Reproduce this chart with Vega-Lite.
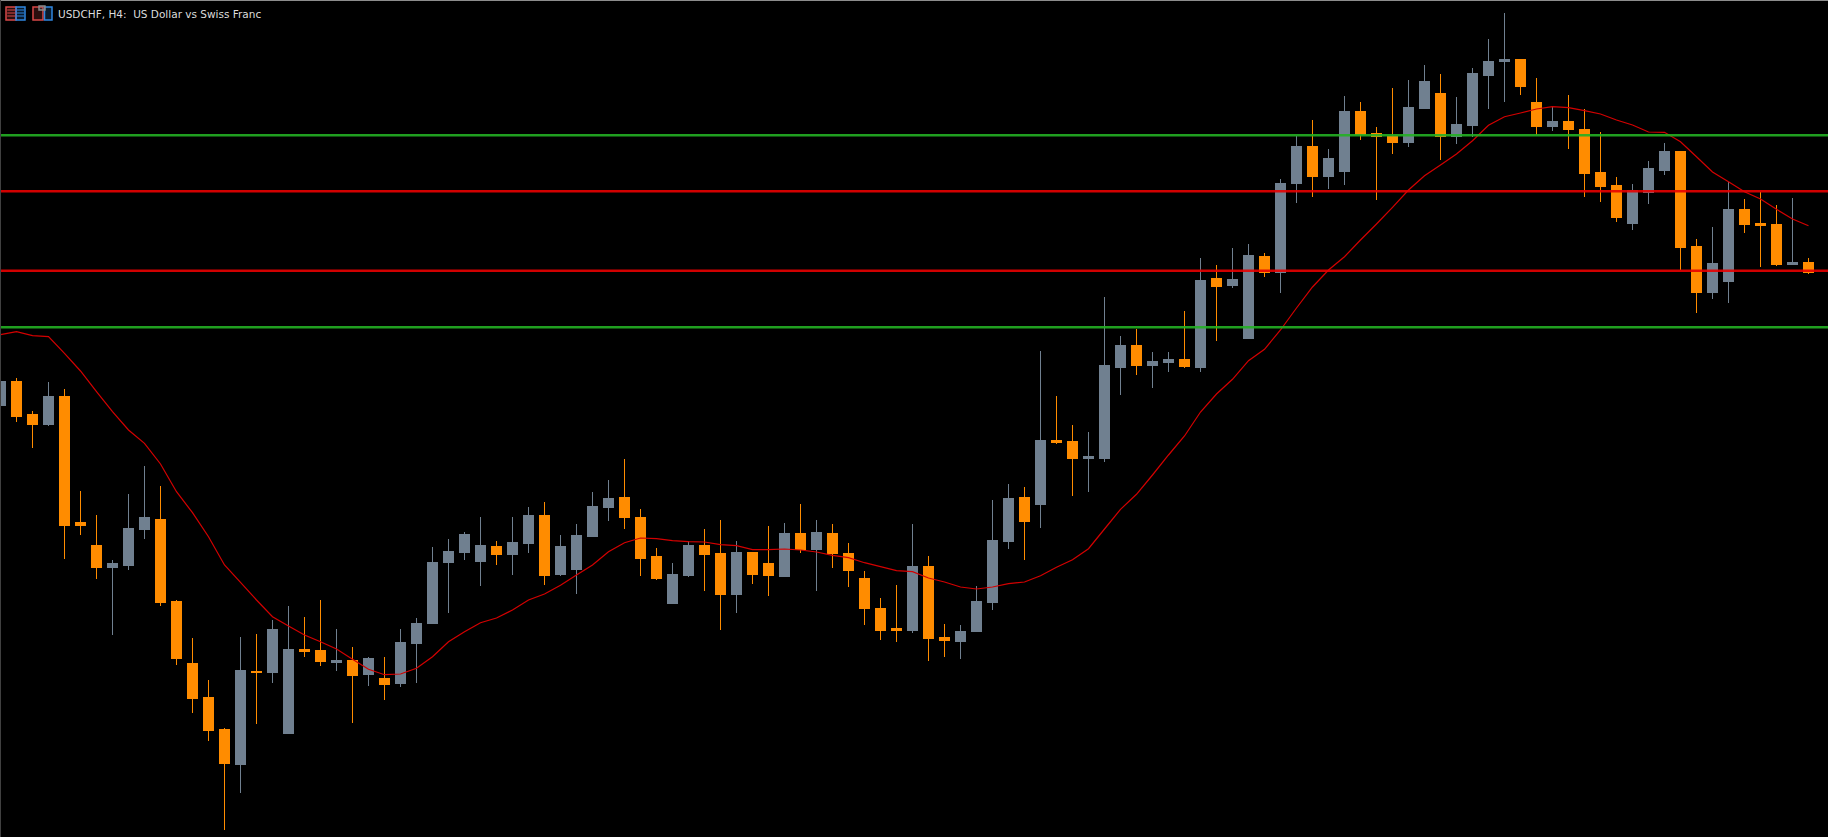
{"$schema":"https://vega.github.io/schema/vega-lite/v6.json","width":1828,"height":837,"autosize":{"type":"none"},"padding":0,"background":"#000000","config":{"view":{"stroke":null,"fill":"#000000"},"axis":{"disable":true}},
"datasets":{"candles":[
{"i":0,"open":0.8431,"high":0.8456,"low":0.8431,"close":0.8456},
{"i":1,"open":0.8456,"high":0.8459,"low":0.8415,"close":0.8420},
{"i":2,"open":0.8423,"high":0.8426,"low":0.8389,"close":0.8412},
{"i":3,"open":0.8412,"high":0.8455,"low":0.8411,"close":0.8441},
{"i":4,"open":0.8441,"high":0.8448,"low":0.8278,"close":0.8311},
{"i":5,"open":0.8315,"high":0.8346,"low":0.8302,"close":0.8311},
{"i":6,"open":0.8292,"high":0.8322,"low":0.8258,"close":0.8269},
{"i":7,"open":0.8269,"high":0.8277,"low":0.8202,"close":0.8274},
{"i":8,"open":0.8271,"high":0.8343,"low":0.8267,"close":0.8309},
{"i":9,"open":0.8307,"high":0.8371,"low":0.8298,"close":0.8320},
{"i":10,"open":0.8318,"high":0.8351,"low":0.8231,"close":0.8234},
{"i":11,"open":0.8236,"high":0.8237,"low":0.8172,"close":0.8178},
{"i":12,"open":0.8174,"high":0.8199,"low":0.8124,"close":0.8138},
{"i":13,"open":0.8140,"high":0.8157,"low":0.8096,"close":0.8106},
{"i":14,"open":0.8108,"high":0.8109,"low":0.8007,"close":0.8073},
{"i":15,"open":0.8072,"high":0.8200,"low":0.8044,"close":0.8167},
{"i":16,"open":0.8166,"high":0.8203,"low":0.8113,"close":0.8164},
{"i":17,"open":0.8164,"high":0.8217,"low":0.8154,"close":0.8208},
{"i":18,"open":0.8103,"high":0.8231,"low":0.8103,"close":0.8188},
{"i":19,"open":0.8188,"high":0.8220,"low":0.8180,"close":0.8185},
{"i":20,"open":0.8187,"high":0.8237,"low":0.8171,"close":0.8175},
{"i":21,"open":0.8174,"high":0.8208,"low":0.8166,"close":0.8177},
{"i":22,"open":0.8177,"high":0.8190,"low":0.8114,"close":0.8161},
{"i":23,"open":0.8162,"high":0.8180,"low":0.8151,"close":0.8179},
{"i":24,"open":0.8159,"high":0.8180,"low":0.8137,"close":0.8152},
{"i":25,"open":0.8153,"high":0.8208,"low":0.8150,"close":0.8195},
{"i":26,"open":0.8193,"high":0.8219,"low":0.8154,"close":0.8214},
{"i":27,"open":0.8213,"high":0.8290,"low":0.8213,"close":0.8275},
{"i":28,"open":0.8274,"high":0.8298,"low":0.8224,"close":0.8286},
{"i":29,"open":0.8284,"high":0.8305,"low":0.8277,"close":0.8303},
{"i":30,"open":0.8275,"high":0.8320,"low":0.8251,"close":0.8292},
{"i":31,"open":0.8291,"high":0.8296,"low":0.8272,"close":0.8282},
{"i":32,"open":0.8282,"high":0.8320,"low":0.8262,"close":0.8295},
{"i":33,"open":0.8293,"high":0.8330,"low":0.8284,"close":0.8322},
{"i":34,"open":0.8322,"high":0.8335,"low":0.8252,"close":0.8261},
{"i":35,"open":0.8262,"high":0.8302,"low":0.8261,"close":0.8291},
{"i":36,"open":0.8267,"high":0.8313,"low":0.8243,"close":0.8302},
{"i":37,"open":0.8300,"high":0.8345,"low":0.8300,"close":0.8331},
{"i":38,"open":0.8329,"high":0.8357,"low":0.8316,"close":0.8339},
{"i":39,"open":0.8340,"high":0.8378,"low":0.8308,"close":0.8319},
{"i":40,"open":0.8320,"high":0.8328,"low":0.8261,"close":0.8278},
{"i":41,"open":0.8281,"high":0.8289,"low":0.8257,"close":0.8258},
{"i":42,"open":0.8233,"high":0.8274,"low":0.8233,"close":0.8263},
{"i":43,"open":0.8261,"high":0.8296,"low":0.8260,"close":0.8292},
{"i":44,"open":0.8292,"high":0.8308,"low":0.8246,"close":0.8282},
{"i":45,"open":0.8284,"high":0.8317,"low":0.8207,"close":0.8242},
{"i":46,"open":0.8242,"high":0.8296,"low":0.8224,"close":0.8285},
{"i":47,"open":0.8285,"high":0.8285,"low":0.8253,"close":0.8262},
{"i":48,"open":0.8274,"high":0.8311,"low":0.8241,"close":0.8261},
{"i":49,"open":0.8260,"high":0.8314,"low":0.8260,"close":0.8304},
{"i":50,"open":0.8304,"high":0.8333,"low":0.8284,"close":0.8287},
{"i":51,"open":0.8287,"high":0.8317,"low":0.8246,"close":0.8305},
{"i":52,"open":0.8304,"high":0.8313,"low":0.8269,"close":0.8283},
{"i":53,"open":0.8284,"high":0.8294,"low":0.8250,"close":0.8266},
{"i":54,"open":0.8259,"high":0.8266,"low":0.8212,"close":0.8228},
{"i":55,"open":0.8229,"high":0.8239,"low":0.8197,"close":0.8206},
{"i":56,"open":0.8209,"high":0.8252,"low":0.8195,"close":0.8206},
{"i":57,"open":0.8206,"high":0.8313,"low":0.8204,"close":0.8271},
{"i":58,"open":0.8271,"high":0.8281,"low":0.8176,"close":0.8198},
{"i":59,"open":0.8200,"high":0.8213,"low":0.8180,"close":0.8196},
{"i":60,"open":0.8195,"high":0.8212,"low":0.8178,"close":0.8206},
{"i":61,"open":0.8205,"high":0.8251,"low":0.8205,"close":0.8236},
{"i":62,"open":0.8234,"high":0.8337,"low":0.8227,"close":0.8297},
{"i":63,"open":0.8295,"high":0.8353,"low":0.8288,"close":0.8339},
{"i":64,"open":0.8340,"high":0.8350,"low":0.8277,"close":0.8315},
{"i":65,"open":0.8332,"high":0.8486,"low":0.8309,"close":0.8397},
{"i":66,"open":0.8397,"high":0.8441,"low":0.8393,"close":0.8394},
{"i":67,"open":0.8396,"high":0.8412,"low":0.8341,"close":0.8378},
{"i":68,"open":0.8378,"high":0.8405,"low":0.8345,"close":0.8381},
{"i":69,"open":0.8378,"high":0.8540,"low":0.8375,"close":0.8472},
{"i":70,"open":0.8469,"high":0.8501,"low":0.8442,"close":0.8492},
{"i":71,"open":0.8492,"high":0.8508,"low":0.8462,"close":0.8471},
{"i":72,"open":0.8471,"high":0.8485,"low":0.8449,"close":0.8476},
{"i":73,"open":0.8474,"high":0.8485,"low":0.8465,"close":0.8478},
{"i":74,"open":0.8478,"high":0.8526,"low":0.8469,"close":0.8470},
{"i":75,"open":0.8469,"high":0.8579,"low":0.8465,"close":0.8557},
{"i":76,"open":0.8559,"high":0.8572,"low":0.8496,"close":0.8550},
{"i":77,"open":0.8551,"high":0.8589,"low":0.8549,"close":0.8558},
{"i":78,"open":0.8498,"high":0.8593,"low":0.8498,"close":0.8582},
{"i":79,"open":0.8581,"high":0.8584,"low":0.8560,"close":0.8564},
{"i":80,"open":0.8564,"high":0.8658,"low":0.8544,"close":0.8654},
{"i":81,"open":0.8653,"high":0.8701,"low":0.8634,"close":0.8691},
{"i":82,"open":0.8691,"high":0.8717,"low":0.8640,"close":0.8660},
{"i":83,"open":0.8660,"high":0.8688,"low":0.8648,"close":0.8679},
{"i":84,"open":0.8665,"high":0.8741,"low":0.8652,"close":0.8726},
{"i":85,"open":0.8726,"high":0.8735,"low":0.8697,"close":0.8702},
{"i":86,"open":0.8704,"high":0.8710,"low":0.8637,"close":0.8700},
{"i":87,"open":0.8701,"high":0.8749,"low":0.8683,"close":0.8694},
{"i":88,"open":0.8694,"high":0.8757,"low":0.8690,"close":0.8730},
{"i":89,"open":0.8728,"high":0.8772,"low":0.8728,"close":0.8756},
{"i":90,"open":0.8744,"high":0.8763,"low":0.8677,"close":0.8700},
{"i":91,"open":0.8700,"high":0.8740,"low":0.8693,"close":0.8713},
{"i":92,"open":0.8711,"high":0.8769,"low":0.8700,"close":0.8764},
{"i":93,"open":0.8761,"high":0.8798,"low":0.8728,"close":0.8776},
{"i":94,"open":0.8775,"high":0.8824,"low":0.8735,"close":0.8778},
{"i":95,"open":0.8778,"high":0.8778,"low":0.8742,"close":0.8750},
{"i":96,"open":0.8735,"high":0.8759,"low":0.8702,"close":0.8710},
{"i":97,"open":0.8710,"high":0.8730,"low":0.8706,"close":0.8716},
{"i":98,"open":0.8716,"high":0.8742,"low":0.8688,"close":0.8707},
{"i":99,"open":0.8708,"high":0.8728,"low":0.8640,"close":0.8663},
{"i":100,"open":0.8665,"high":0.8705,"low":0.8635,"close":0.8650},
{"i":101,"open":0.8652,"high":0.8660,"low":0.8615,"close":0.8619},
{"i":102,"open":0.8613,"high":0.8653,"low":0.8607,"close":0.8647},
{"i":103,"open":0.8644,"high":0.8676,"low":0.8633,"close":0.8669},
{"i":104,"open":0.8666,"high":0.8694,"low":0.8662,"close":0.8686},
{"i":105,"open":0.8686,"high":0.8686,"low":0.8567,"close":0.8589},
{"i":106,"open":0.8591,"high":0.8598,"low":0.8524,"close":0.8544},
{"i":107,"open":0.8544,"high":0.8610,"low":0.8538,"close":0.8574},
{"i":108,"open":0.8555,"high":0.8655,"low":0.8534,"close":0.8628},
{"i":109,"open":0.8628,"high":0.8638,"low":0.8604,"close":0.8612},
{"i":110,"open":0.8614,"high":0.8645,"low":0.8570,"close":0.8611},
{"i":111,"open":0.8613,"high":0.8632,"low":0.8571,"close":0.8572},
{"i":112,"open":0.8572,"high":0.8639,"low":0.8572,"close":0.8575},
{"i":113,"open":0.8575,"high":0.8579,"low":0.8563,"close":0.8564}
],
"ma":[
{"i":0,"v":0.85023},{"i":1,"v":0.85053},{"i":2,"v":0.85013},{"i":3,"v":0.85003},{"i":4,"v":0.84837},{"i":5,"v":0.8466},{"i":6,"v":0.84453},{"i":7,"v":0.84253},{"i":8,"v":0.8407},{"i":9,"v":0.83937},{"i":10,"v":0.8373},{"i":11,"v":0.83453},{"i":12,"v":0.83243},{"i":13,"v":0.83003},{"i":14,"v":0.8272},{"i":15,"v":0.82547},{"i":16,"v":0.8237},{"i":17,"v":0.82203},{"i":18,"v":0.8211},{"i":19,"v":0.8202},{"i":20,"v":0.81953},{"i":21,"v":0.8188},{"i":22,"v":0.81777},{"i":23,"v":0.81677},{"i":24,"v":0.81623},{"i":25,"v":0.8163},{"i":26,"v":0.81687},{"i":27,"v":0.81803},{"i":28,"v":0.81953},{"i":29,"v":0.82053},{"i":30,"v":0.82143},{"i":31,"v":0.8219},{"i":32,"v":0.8227},{"i":33,"v":0.8237},{"i":34,"v":0.8243},{"i":35,"v":0.82517},{"i":36,"v":0.8262},{"i":37,"v":0.8272},{"i":38,"v":0.82853},{"i":39,"v":0.82943},{"i":40,"v":0.8299},{"i":41,"v":0.82983},{"i":42,"v":0.82963},{"i":43,"v":0.82953},{"i":44,"v":0.8295},{"i":45,"v":0.82923},{"i":46,"v":0.82913},{"i":47,"v":0.82873},{"i":48,"v":0.82873},{"i":49,"v":0.8288},{"i":50,"v":0.8287},{"i":51,"v":0.8285},{"i":52,"v":0.82817},{"i":53,"v":0.82793},{"i":54,"v":0.82743},{"i":55,"v":0.82703},{"i":56,"v":0.82663},{"i":57,"v":0.82653},{"i":58,"v":0.8259},{"i":59,"v":0.8255},{"i":60,"v":0.825},{"i":61,"v":0.8248},{"i":62,"v":0.825},{"i":63,"v":0.82533},{"i":64,"v":0.8255},{"i":65,"v":0.82613},{"i":66,"v":0.82697},{"i":67,"v":0.82773},{"i":68,"v":0.82883},{"i":69,"v":0.8308},{"i":70,"v":0.83277},{"i":71,"v":0.83427},{"i":72,"v":0.8362},{"i":73,"v":0.8382},{"i":74,"v":0.8401},{"i":75,"v":0.8425},{"i":76,"v":0.8443},{"i":77,"v":0.84577},{"i":78,"v":0.84763},{"i":79,"v":0.84877},{"i":80,"v":0.8507},{"i":81,"v":0.8529},{"i":82,"v":0.855},{"i":83,"v":0.8567},{"i":84,"v":0.85803},{"i":85,"v":0.8597},{"i":86,"v":0.8613},{"i":87,"v":0.86297},{"i":88,"v":0.8647},{"i":89,"v":0.86613},{"i":90,"v":0.8672},{"i":91,"v":0.8683},{"i":92,"v":0.86963},{"i":93,"v":0.87117},{"i":94,"v":0.87203},{"i":95,"v":0.8724},{"i":96,"v":0.8728},{"i":97,"v":0.87303},{"i":98,"v":0.87293},{"i":99,"v":0.87263},{"i":100,"v":0.8723},{"i":101,"v":0.8717},{"i":102,"v":0.8712},{"i":103,"v":0.8705},{"i":104,"v":0.87047},{"i":105,"v":0.86953},{"i":106,"v":0.86803},{"i":107,"v":0.8665},{"i":108,"v":0.86553},{"i":109,"v":0.86453},{"i":110,"v":0.8638},{"i":111,"v":0.86277},{"i":112,"v":0.8618},{"i":113,"v":0.86113}
],
"levels":[{"level":0.87017,"kind":"green"},{"level":0.86457,"kind":"red"},{"level":0.85663,"kind":"red"},{"level":0.85097,"kind":"green"}],
"frameTop":[{"p":0.88365}],
"frameLeft":[{"i":0}],
"label":[{"i":3.594,"p":0.8822,"text":"USDCHF, H4: \u00a0US Dollar vs Swiss Franc"}],
"icons":[
{"part":"redbox","a":0.344,"b":0.969,"t":0.8830,"u":0.8817},
{"part":"bluebox","a":0.969,"b":1.531,"t":0.8830,"u":0.8817},
{"part":"redbox","a":2.031,"b":2.656,"t":0.8830,"u":0.8817},
{"part":"bluebox","a":2.75,"b":3.219,"t":0.8830,"u":0.8817},
{"part":"graybox","a":2.406,"b":2.78,"t":0.8831,"u":0.8827}
],
"stripes":[
{"part":"redbox","a":0.42,"b":0.95,"t":0.88275,"u":0.88265},
{"part":"redbox","a":0.42,"b":0.95,"t":0.88245,"u":0.88235},
{"part":"redbox","a":0.42,"b":0.95,"t":0.88215,"u":0.88205},
{"part":"bluebox","a":1.0,"b":1.47,"t":0.88275,"u":0.88265},
{"part":"bluebox","a":1.0,"b":1.47,"t":0.88245,"u":0.88235},
{"part":"bluebox","a":1.0,"b":1.47,"t":0.88215,"u":0.88205}
]},
"layer":[
{"data":{"name":"candles"},"mark":{"type":"rule","strokeWidth":1},"encoding":{"x":{"field":"i","type":"quantitative","scale":{"domain":[-0.03125,114.21875],"padding":0,"nice":false,"zero":false},"axis":null},"y":{"field":"high","type":"quantitative","scale":{"domain":[0.8,0.8837],"nice":false,"zero":false},"axis":null},"y2":{"field":"low"},"color":{"condition":{"test":"datum.close>=datum.open","value":"#708090"},"value":"#FF8C00"}}},
{"data":{"name":"candles"},"mark":{"type":"bar","width":11,"orient":"vertical"},"encoding":{"x":{"field":"i","type":"quantitative","scale":{"padding":0}},"y":{"field":"open","type":"quantitative"},"y2":{"field":"close"},"color":{"condition":{"test":"datum.close>=datum.open","value":"#708090"},"value":"#FF8C00"}}},
{"data":{"name":"ma"},"mark":{"type":"line","strokeWidth":1.2,"color":"#D40000","interpolate":"linear"},"encoding":{"x":{"field":"i","type":"quantitative"},"y":{"field":"v","type":"quantitative"}}},
{"data":{"name":"levels"},"mark":{"type":"rule","strokeWidth":2.6,"opacity":0.9},"encoding":{"y":{"field":"level","type":"quantitative"},"color":{"field":"kind","type":"nominal","legend":null,"scale":{"domain":["green","red"],"range":["#24B024","#E80000"]}}}},
{"data":{"name":"frameTop"},"mark":{"type":"rule","strokeWidth":1,"color":"#8C8C8C"},"encoding":{"y":{"field":"p","type":"quantitative"}}},
{"data":{"name":"frameLeft"},"mark":{"type":"rule","strokeWidth":1,"color":"#404040"},"encoding":{"x":{"field":"i","type":"quantitative"}}},
{"data":{"name":"icons"},"mark":{"type":"rect","strokeWidth":1.5,"fillOpacity":0.2},"encoding":{"x":{"field":"a","type":"quantitative"},"x2":{"field":"b"},"y":{"field":"t","type":"quantitative"},"y2":{"field":"u"},"fill":{"field":"part","type":"nominal","legend":null,"scale":{"domain":["redbox","bluebox","graybox"],"range":["#D84848","#2F87E0","#8A8A8A"]}},"stroke":{"field":"part","type":"nominal","legend":null,"scale":{"domain":["redbox","bluebox","graybox"],"range":["#D84848","#2F87E0","#8A8A8A"]}}}},
{"data":{"name":"stripes"},"mark":{"type":"rect"},"encoding":{"x":{"field":"a","type":"quantitative"},"x2":{"field":"b"},"y":{"field":"t","type":"quantitative"},"y2":{"field":"u"},"fill":{"field":"part","type":"nominal","legend":null,"scale":{"domain":["redbox","bluebox","graybox"],"range":["#D84848","#2F87E0","#8A8A8A"]}}}},
{"data":{"name":"label"},"mark":{"type":"text","align":"left","baseline":"middle","font":"DejaVu Sans","fontSize":10.5,"color":"#DCDCDC"},"encoding":{"x":{"field":"i","type":"quantitative"},"y":{"field":"p","type":"quantitative"},"text":{"field":"text"}}}
],
"resolve":{"scale":{"fill":"independent","stroke":"independent"}}}
